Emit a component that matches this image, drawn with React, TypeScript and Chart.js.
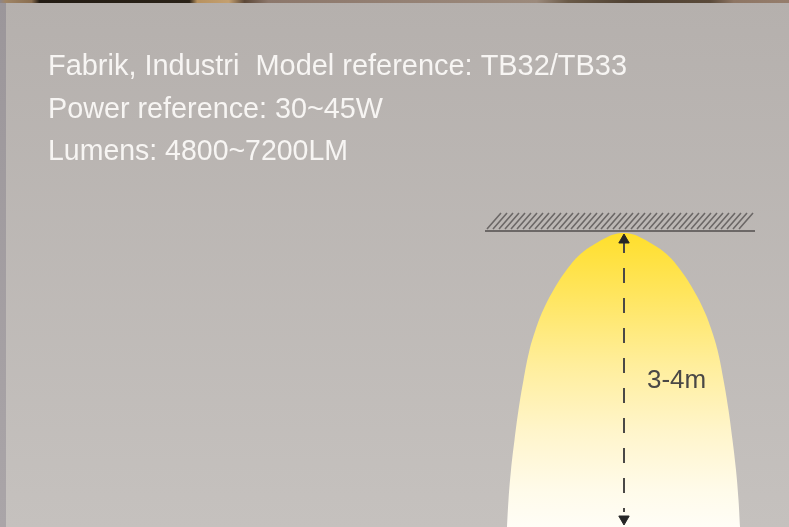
import React, { useEffect, useRef } from "react";
import { Chart, registerables } from "chart.js";

Chart.register(...registerables);

const W = 789;
const H = 527;

// Texts
const infoLines = [
  "Fabrik, Industri  Model reference: TB32/TB33",
  "Power reference: 30~45W",
  "Lumens: 4800~7200LM",
];
const distanceLabel = "3-4m";

// Light beam outline (canvas units: x right, y down)
const beamLevels = [527, 500, 470, 440, 410, 380, 350, 330, 315, 300, 290, 280, 270, 260, 255, 250, 246, 243, 240, 238, 236, 234];
const beamLeft = [507, 508.5, 511, 514.5, 518.5, 523.5, 529.5, 535.5, 541, 548, 553.5, 559.5, 566.5, 574.5, 579.5, 585.5, 591.5, 596.5, 601.5, 605.5, 609.5, 615.5];
const beamRight = [740, 738.5, 736, 732.5, 728.5, 723.5, 717.5, 711.5, 706, 699, 693.5, 687.5, 680.5, 672.5, 667.5, 661.5, 655.5, 650.5, 645.5, 641.5, 637.5, 631.5];
const beamApex = { x: 623.5, y: 233 };

// Ceiling line and hatching
const ceilingY = 231;
const ceilingX = [485, 755];
const hatchBottomY = 229;
const hatchTopY = 213;
const hatchFirstX = 487;
const hatchLastX = 740;
const hatchStep = 6;
const hatchLean = 14;

// Distance arrow
const arrowX = 624;
const arrowShaft = [238, 512];
const arrowHeads = [240, 519];
const arrowRotations = [0, 180];

// Text layout (style only)
const textStyle = {
  x: 48,
  baselines: [75, 118, 160],
  widths: [579, 335, 300],
  font: "30px 'Liberation Sans', Arial, sans-serif",
  color: "#f7f5f3",
};
const labelStyle = {
  x: 647,
  baseline: 388,
  font: "26px 'Liberation Sans', Arial, sans-serif",
  color: "#4a4846",
};

function buildBeam() {
  const pts: { x: number; y: number }[] = [];
  for (let i = 0; i < beamLevels.length; i++) pts.push({ x: beamLeft[i], y: beamLevels[i] });
  pts.push({ x: beamApex.x, y: beamApex.y });
  for (let i = beamLevels.length - 1; i >= 0; i--) pts.push({ x: beamRight[i], y: beamLevels[i] });
  return pts;
}

function buildHatch() {
  const pts: { x: number; y: number | null }[] = [];
  for (let x = hatchFirstX; x <= hatchLastX; x += hatchStep) {
    pts.push({ x, y: hatchBottomY });
    pts.push({ x: x + hatchLean, y: hatchTopY });
    pts.push({ x: x + hatchLean + 0.5, y: null });
  }
  return pts;
}

const backgroundPlugin = {
  id: "pageBackground",
  beforeDraw(chart: any) {
    const c = chart.ctx as CanvasRenderingContext2D;
    c.save();
    const g = c.createLinearGradient(0, 0, 0, H);
    g.addColorStop(0, "#b5b0ad");
    g.addColorStop(1, "#c5c1be");
    c.fillStyle = g;
    c.fillRect(0, 0, W, H);

    const side = c.createLinearGradient(0, 0, 0, H);
    side.addColorStop(0, "#9b969a");
    side.addColorStop(1, "#aaa5a8");
    c.fillStyle = side;
    c.fillRect(0, 0, 6, H);

    const top = c.createLinearGradient(0, 0, W, 0);
    const stops: [number, string][] = [
      [0, "#8d8588"], [0.007, "#a08566"], [0.04, "#8a6e50"], [0.05, "#231c14"],
      [0.24, "#2a2218"], [0.25, "#b8925f"], [0.29, "#c4a070"], [0.31, "#5c4838"],
      [0.34, "#8c776b"], [0.68, "#9c8a7c"], [0.72, "#6a5a48"], [0.8, "#4e4032"],
      [0.9, "#5a4a3a"], [0.93, "#8e7664"], [1, "#957d6c"],
    ];
    stops.forEach(([o, col]) => top.addColorStop(o, col));
    c.fillStyle = top;
    c.fillRect(0, 0, W, 3);
    c.restore();
  },
};

const textPlugin = {
  id: "infoText",
  afterDraw(chart: any) {
    const c = chart.ctx as CanvasRenderingContext2D;
    c.save();
    c.font = textStyle.font;
    c.fillStyle = textStyle.color;
    c.textBaseline = "alphabetic";
    c.textAlign = "left";
    infoLines.forEach((line, i) => {
      const m = c.measureText(line).width;
      const s = m > 0 ? textStyle.widths[i] / m : 1;
      c.save();
      c.translate(textStyle.x, textStyle.baselines[i]);
      c.scale(s, 1);
      c.fillText(line, 0, 0);
      c.restore();
    });
    c.font = labelStyle.font;
    c.fillStyle = labelStyle.color;
    c.fillText(distanceLabel, labelStyle.x, labelStyle.baseline);
    c.restore();
  },
};

function beamFill(ctx: any) {
  const chartObj = ctx.chart;
  const y = chartObj && chartObj.scales ? chartObj.scales.y : null;
  const fallback = "#ffec90";
  if (!y) return fallback;
  const y0 = y.getPixelForValue(beamApex.y);
  const y1 = y.getPixelForValue(H);
  if (!isFinite(y0) || !isFinite(y1) || y0 === y1) return fallback;
  const g = chartObj.ctx.createLinearGradient(0, y0, 0, y1);
  g.addColorStop(0, "#ffdf2c");
  g.addColorStop(0.2, "#ffe55c");
  g.addColorStop(0.45, "#ffee9c");
  g.addColorStop(0.68, "#fff5cc");
  g.addColorStop(0.88, "#fffbea");
  g.addColorStop(1, "#fffdf6");
  return g;
}

export default function App() {
  const ref = useRef<HTMLCanvasElement | null>(null);

  useEffect(() => {
    if (!ref.current) return;
    const chart = new Chart(ref.current, {
      type: "line",
      data: {
        datasets: [
          {
            label: "arrow heads",
            data: arrowHeads.map((y) => ({ x: arrowX, y })),
            showLine: false,
            pointStyle: "triangle",
            pointRadius: 6,
            pointRotation: arrowRotations,
            pointBackgroundColor: "#262626",
            pointBorderColor: "#262626",
            pointBorderWidth: 1,
            order: 0,
          } as any,
          {
            label: "distance",
            data: arrowShaft.map((y) => ({ x: arrowX, y })),
            borderColor: "#4a4846",
            borderWidth: 2,
            borderDash: [15, 15],
            pointRadius: 0,
            fill: false,
            order: 1,
          },
          {
            label: "ceiling",
            data: ceilingX.map((x) => ({ x, y: ceilingY })),
            borderColor: "#6c6867",
            borderWidth: 2,
            pointRadius: 0,
            fill: false,
            order: 2,
          },
          {
            label: "hatch",
            data: buildHatch() as any,
            borderColor: "#6c6867",
            borderWidth: 1.6,
            pointRadius: 0,
            spanGaps: false,
            fill: false,
            order: 3,
          },
          {
            label: "beam",
            data: buildBeam(),
            borderWidth: 0,
            borderColor: "rgba(0,0,0,0)",
            pointRadius: 0,
            tension: 0.4,
            fill: "shape",
            backgroundColor: beamFill,
            order: 10,
          } as any,
        ],
      },
      options: {
        responsive: false,
        maintainAspectRatio: false,
        animation: false,
        parsing: false as any,
        layout: { padding: 0, autoPadding: false } as any,
        plugins: {
          legend: { display: false },
          tooltip: { enabled: false },
          title: { display: false },
        },
        events: [],
        scales: {
          x: { type: "linear", min: 0, max: W, display: false },
          y: { type: "linear", min: 0, max: H, reverse: true, display: false },
        },
      },
      plugins: [backgroundPlugin, textPlugin],
    });
    return () => chart.destroy();
  }, []);

  return (
    <div style={{ position: "fixed", left: 0, top: 0, width: W, height: H }}>
      <canvas ref={ref} width={W} height={H} style={{ display: "block", width: W, height: H }} />
    </div>
  );
}
